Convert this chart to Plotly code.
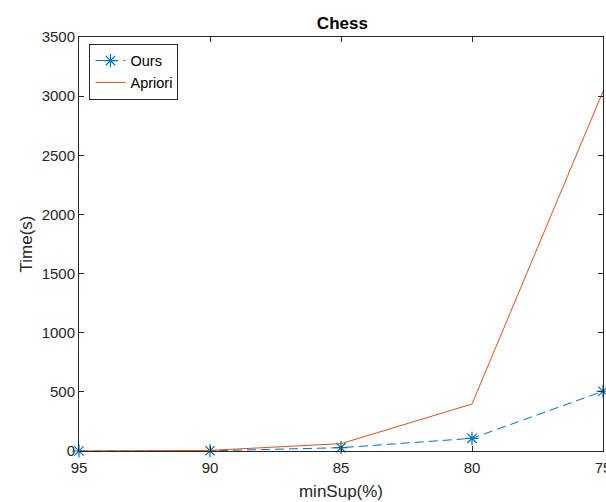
import plotly.graph_objects as go

min_sup = [95, 90, 85, 80, 75]
ours = [0, 2, 28, 107, 505]
apriori = [0, 5, 62, 397, 3040]
x_ticks = [95, 90, 85, 80, 75]
y_ticks = [0, 500, 1000, 1500, 2000, 2500, 3000, 3500]

BLUE = "#0072BD"
ORANGE = "#D95319"
AX = "#262626"
FONT = "Liberation Sans, Arial"

fig = go.Figure()
fig.add_trace(go.Scatter(
    x=min_sup, y=ours, name="Ours", mode="lines+markers",
    line=dict(color=BLUE, width=1, dash="9px,5px"),
    marker=dict(symbol="asterisk-open", size=11, color=BLUE, line=dict(color=BLUE, width=1.2)),
    cliponaxis=False,
))
fig.add_trace(go.Scatter(
    x=min_sup, y=apriori, name="Apriori", mode="lines",
    line=dict(color=ORANGE, width=1),
    cliponaxis=False,
))

axis_common = dict(
    showline=True, linecolor=AX, linewidth=1, mirror="ticks",
    ticks="inside", ticklen=5, tickcolor=AX, showgrid=False, zeroline=False,
    tickfont=dict(family=FONT, size=15, color=AX),
    ticklabeloverflow="allow", automargin=False,
)

fig.update_layout(
    width=606, height=502,
    margin=dict(l=79, r=3, t=37, b=51),
    paper_bgcolor="white", plot_bgcolor="white",
    title=dict(text="<b>Chess</b>", x=0.565, xanchor="center", y=0.954, yanchor="middle",
               font=dict(family=FONT, size=17, color="black")),
    xaxis=dict(range=[95, 75], tickvals=x_ticks, ticktext=[str(v) for v in x_ticks],
               ticklabelstandoff=3,
               title=dict(text="minSup(%)", standoff=10,
                          font=dict(family=FONT, size=17, color=AX)),
               **axis_common),
    yaxis=dict(range=[0, 3500], tickvals=y_ticks, ticktext=[str(v) for v in y_ticks],
               title=dict(text="Time(s)", standoff=4,
                          font=dict(family=FONT, size=17, color=AX)),
               **axis_common),
    legend=dict(x=0.02, y=0.984, xanchor="left", yanchor="top",
                bordercolor=AX, borderwidth=1, bgcolor="white",
                font=dict(family=FONT, size=14.5, color="black"),
                tracegroupgap=0, itemwidth=30),
    showlegend=True,
)

fig.write_html("out.html")
